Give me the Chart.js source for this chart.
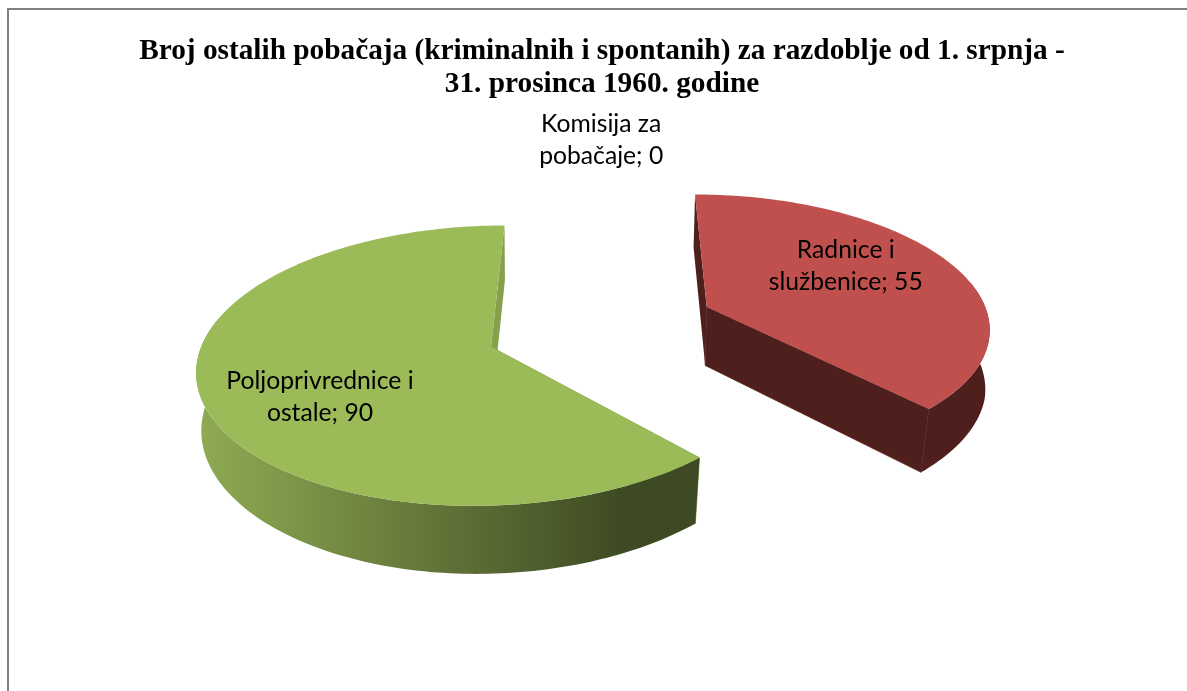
<!DOCTYPE html>
<html>
<head>
<meta charset="utf-8">
<title>Broj ostalih pobačaja</title>
<script src="https://cdn.jsdelivr.net/npm/chart.js@4"></script>
<style>
  html, body { margin: 0; padding: 0; background: #fff; overflow: hidden; width: 1187px; height: 691px; }
  #okvir { position: absolute; left: 7px; top: 8px; width: 1180px; height: 683px; border-left: 2px solid #7f7f7f; border-top: 2px solid #7f7f7f; box-sizing: border-box; }
  #myChart { position: absolute; left: 0; top: 0; }
</style>
</head>
<body>
<canvas id="myChart" width="1204" height="691"></canvas>
<div id="okvir"></div>
<script>
// Podaci
const naslov = ["Broj ostalih pobačaja (kriminalnih i spontanih) za razdoblje od 1. srpnja -", "31. prosinca 1960. godine"];
const kategorije = [["Radnice i", "službenice"], ["Poljoprivrednice i", "ostale"], ["Komisija za", "pobačaje"]];
const vrijednosti = [55, 90, 0];

// Boje
const bojeGore = ["#c0504d", "#9bbb59", "#4bacc6"];
const bojeStrana = [["#4f1f1e", "#4f1f1e"], ["#8fab53", "#3e4a23"], ["#254f5c", "#254f5c"]];
const bojeRez = ["#4f1f1e", "#86a04c", "#254f5c"];

// Pomak natpisa od vrha isjecka
const pomakNatpisa = [[139, -41], [-171, 50], [0, -135]];

const NAGIB = 0.4655;
const DALJINA = 2150;

function projekcija(u, v, cx, cy) {
    const f = DALJINA / (DALJINA - v);
    return [cx + u * f, cy + v * NAGIB * f];
}

// donja ploha je malo uza i dubina raste prema gledatelju
function spusti(p) {
    const dubina = 53 + (p[1] - 195) * 0.0484;
    const suzenje = 0.01 + Math.max(0, p[1] - 340) * 0.00015;
    return [p[0] - (p[0] - 550) * suzenje, p[1] + dubina];
}

function poligon(ctx, tocke, boja, rub) {
    ctx.beginPath();
    tocke.forEach((t, i) => i ? ctx.lineTo(t[0], t[1]) : ctx.moveTo(t[0], t[1]));
    ctx.closePath();
    ctx.fillStyle = boja;
    ctx.fill();
    if (rub) {
        ctx.strokeStyle = boja;
        ctx.lineWidth = 0.7;
        ctx.stroke();
    }
}

const pita3d = {
    id: "pita3d",
    beforeDatasetsDraw(chart) {
        const ctx = chart.ctx;
        const elementi = chart.getDatasetMeta(0).data;

        elementi.forEach((el, i) => {
            const sred = (el.startAngle + el.endAngle) / 2;
            const odmak = el.options.offset;
            const u0 = Math.cos(sred) * odmak;
            const v0 = Math.sin(sred) * odmak;
            const cx = el.x - 1;
            const cy = el.y;
            const vrh = projekcija(u0, v0, cx, cy);
            el.vrhEkran = vrh;
            if (el.endAngle - el.startAngle <= 0) return;

            const luk = [];
            const prednji = [];
            const koraci = Math.ceil((el.endAngle - el.startAngle) / 0.02);
            for (let k = 0; k <= koraci; k++) {
                const a = el.startAngle + (el.endAngle - el.startAngle) * k / koraci;
                const t = projekcija(u0 + Math.cos(a) * el.outerRadius, v0 + Math.sin(a) * el.outerRadius, cx, cy);
                luk.push(t);
                if (Math.sin(a) > -0.2) prednji.push(t);
            }
            const lukDolje = luk.map(spusti);
            const vrhDolje = spusti(vrh);
            const zadnji = luk.length - 1;
            const rezovi = [[luk[0], lukDolje[0]], [luk[zadnji], lukDolje[zadnji]]];

            // rezovi okrenuti prema gledatelju idu ispod vanjske strane
            rezovi.filter(r => r[0][1] > vrh[1]).forEach(r => poligon(ctx, [vrh, r[0], r[1], vrhDolje], bojeRez[i], true));

            // vanjska strana, samo prednji dio luka
            const xevi = luk.map(t => t[0]);
            const grad = ctx.createLinearGradient(Math.min(...xevi), 0, Math.max(...xevi), 0);
            grad.addColorStop(0, bojeStrana[i][0]);
            grad.addColorStop(0.85, bojeStrana[i][1]);
            grad.addColorStop(1, bojeStrana[i][1]);
            poligon(ctx, prednji.concat(prednji.map(spusti).reverse()), grad);

            // stražnji rezovi
            rezovi.filter(r => r[0][1] <= vrh[1]).forEach(r => poligon(ctx, [vrh, r[0], r[1], vrhDolje], bojeRez[i]));

            // gornja ploha
            poligon(ctx, [vrh].concat(luk), bojeGore[i]);
        });

        // natpisi
        ctx.save();
        ctx.font = "24.7px Lato";
        ctx.fillStyle = "#000";
        ctx.textAlign = "center";
        ctx.textBaseline = "middle";
        elementi.forEach((el, i) => {
            const x = el.vrhEkran[0] + pomakNatpisa[i][0];
            const y = el.vrhEkran[1] + pomakNatpisa[i][1];
            ctx.fillText(kategorije[i][0], x, y - 16);
            ctx.fillText(kategorije[i][1] + "; " + vrijednosti[i], x, y + 16);
        });
        ctx.restore();
        return false;
    }
};

new Chart(document.getElementById("myChart"), {
    type: "pie",
    data: {
        labels: kategorije.map(k => k.join(" ")),
        datasets: [{
            data: vrijednosti,
            backgroundColor: bojeGore,
            radius: 284,
            offset: 116,
            borderWidth: 0
        }]
    },
    options: {
        responsive: false,
        animation: false,
        rotation: 0.1,
        layout: { padding: { bottom: 146.5 } },
        events: [],
        plugins: {
            legend: { display: false },
            tooltip: { enabled: false },
            title: {
                display: true,
                text: naslov,
                color: "#000",
                font: { family: "'Liberation Serif'", size: 29.3, weight: "bold", lineHeight: 1.126 },
                padding: { top: 34.5, bottom: 8 }
            }
        }
    },
    plugins: [pita3d]
});
</script>
</body>
</html>
